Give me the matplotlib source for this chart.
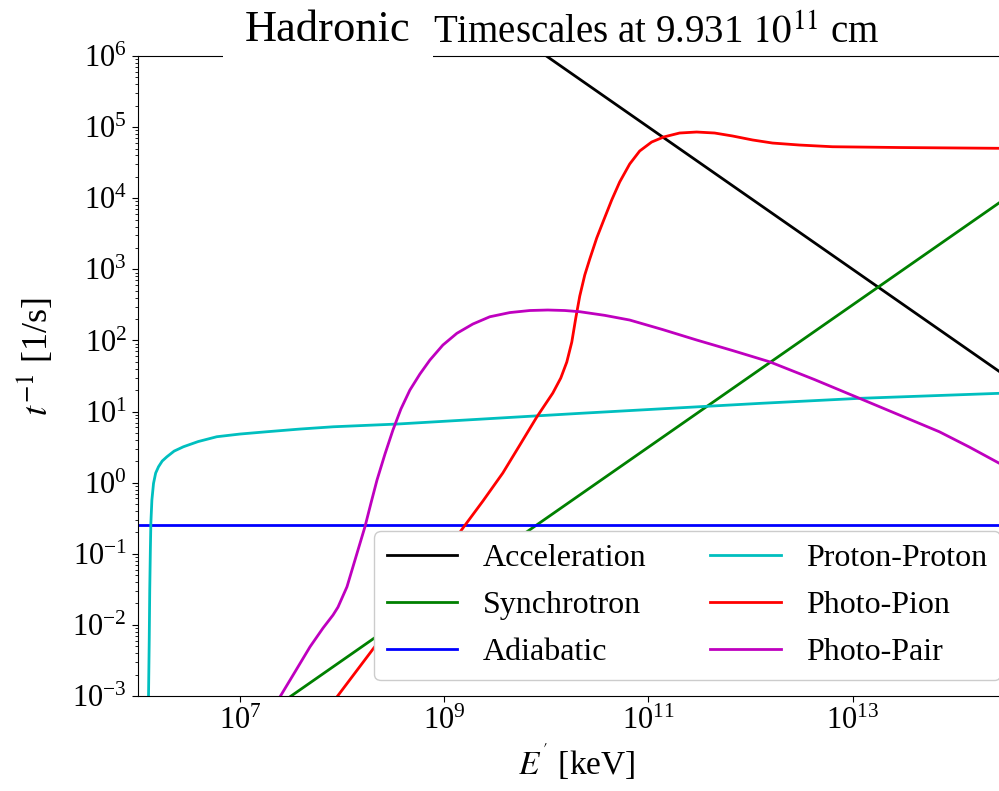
import numpy as np
import matplotlib
matplotlib.use("Agg")
import matplotlib.pyplot as plt
from matplotlib.ticker import LogLocator, NullLocator

plt.rcParams["font.family"] = ["Liberation Serif", "DejaVu Serif"]
plt.rcParams["mathtext.fontset"] = "stix"

# values, as log10(E' / keV) and log10(rate / s^-1)
acc_logE = [9.5, 14.6]
acc_logr = [6.5, 1.4]

syn_logE = [7.0, 14.6]
syn_logr = [-3.5, 4.1]

adi_logE = [6.0, 14.6]
adi_logr = [-0.597, -0.597]

pp_logE = [6.100, 6.103, 6.110, 6.115, 6.121, 6.126, 6.136, 6.152, 6.173, 6.201,
           6.237, 6.283, 6.354, 6.445, 6.589, 6.772, 7.000, 7.261, 7.587, 7.913,
           8.533, 10.33, 12.09, 13.07, 14.43, 14.6]
pp_logr = [-3.620, -3.001, -2.214, -1.511, -0.948, -0.568, -0.245, -0.010, 0.135, 0.224,
           0.304, 0.364, 0.444, 0.505, 0.578, 0.646, 0.684, 0.716, 0.754, 0.786,
           0.824, 0.975, 1.115, 1.186, 1.256, 1.265]

pion_logE = [7.70, 7.95, 8.37, 8.80, 9.182, 9.378, 9.573, 9.740, 9.906, 10.063,
             10.141, 10.200, 10.249, 10.288, 10.327, 10.376, 10.425, 10.493, 10.562,
             10.640, 10.718, 10.816, 10.914, 11.031, 11.149, 11.305, 11.472, 11.648,
             11.824, 12.020, 12.215, 12.479, 12.802, 13.458, 14.436, 14.6]
pion_logr = [-3.47, -3.01, -2.21, -1.40, -0.639, -0.259, 0.135, 0.529, 0.923, 1.260,
             1.471, 1.696, 1.977, 2.315, 2.624, 2.920, 3.145, 3.440, 3.693,
             3.975, 4.228, 4.481, 4.664, 4.790, 4.861, 4.917, 4.931, 4.917,
             4.875, 4.819, 4.776, 4.748, 4.724, 4.713, 4.702, 4.700]

pair_logE = [7.200, 7.391, 7.538, 7.685, 7.812, 7.910, 7.959, 7.998, 8.047, 8.096,
             8.145, 8.184, 8.223, 8.282, 8.341, 8.419, 8.497, 8.575, 8.663, 8.761,
             8.859, 8.986, 9.123, 9.280, 9.446, 9.642, 9.838, 10.014, 10.180, 10.327,
             10.571, 10.816, 11.139, 11.472, 11.824, 12.186, 12.626, 13.067, 13.458,
             13.849, 14.143, 14.427, 14.593]
pair_logr = [-3.470, -3.011, -2.660, -2.308, -2.045, -1.862, -1.750, -1.623, -1.464, -1.229,
             -0.994, -0.807, -0.620, -0.287, 0.037, 0.402, 0.740, 1.035, 1.302, 1.527,
             1.724, 1.935, 2.100, 2.231, 2.333, 2.392, 2.421, 2.428, 2.421, 2.404,
             2.353, 2.287, 2.153, 2.006, 1.858, 1.700, 1.450, 1.186, 0.951,
             0.716, 0.501, 0.280, 0.156]

series = [
    ("Acceleration", acc_logE, acc_logr, "k"),
    ("Synchrotron", syn_logE, syn_logr, "g"),
    ("Adiabatic", adi_logE, adi_logr, "b"),
    ("Proton-Proton", pp_logE, pp_logr, "c"),
    ("Photo-Pion", pion_logE, pion_logr, "r"),
    ("Photo-Pair", pair_logE, pair_logr, "m"),
]

fig = plt.figure(figsize=(9.99, 7.91), dpi=100)
ax = fig.add_axes([138 / 999, 1 - 696 / 791, (1016 - 138) / 999, (696 - 56) / 791])

for name, lx, ly, col in series:
    ax.plot(10 ** np.array(lx), 10 ** np.array(ly), color=col, lw=2, label=name)

ax.set_xscale("log")
ax.set_yscale("log")
ax.set_xlim(1e6, 10 ** 14.6)
ax.set_ylim(1e-3, 1e6)
ax.set_xticks([1e7, 1e9, 1e11, 1e13])
ax.xaxis.set_minor_locator(NullLocator())
ax.yaxis.set_major_locator(LogLocator(base=10, numticks=20))
ax.yaxis.set_minor_locator(LogLocator(base=10, subs=np.arange(2, 10), numticks=20))
ax.tick_params(which="major", labelsize=22, length=4.5)
ax.tick_params(which="minor", length=2.5)

ax.set_xlabel(r"$E^{'}$ [keV]", fontsize=24)
ax.set_ylabel(r"$t^{-1}$ [1/s]", fontsize=26)
ax.yaxis.set_label_coords(-0.094, 0.53)

ax.legend(ncol=2, loc="lower right", fontsize=23, handlelength=2.2,
          labelspacing=0.55, framealpha=1)

fig.text(245 / 999, 1 - 41 / 791, "Hadronic", fontsize=32, ha="left",
         va="baseline",
         bbox=dict(facecolor="white", edgecolor="none", boxstyle="square,pad=0.5"))
fig.text(433 / 999, 1 - 43 / 791, r"Timescales at 9.931 $10^{11}$ cm",
         fontsize=28, ha="left", va="baseline")

fig.savefig("out.png", dpi=100)
